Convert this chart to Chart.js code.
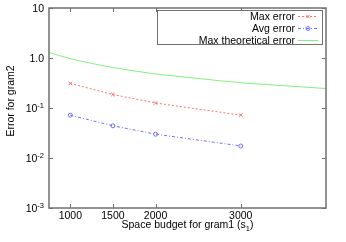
<!DOCTYPE html>
<html>
<head>
<meta charset="utf-8">
<script src="https://cdn.jsdelivr.net/npm/chart.js@4/dist/chart.umd.min.js"></script>
<style>
  html, body { margin: 0; padding: 0; background: #fff; }
  #wrap { width: 346px; height: 242px; }
</style>
</head>
<body>
<div id="wrap"><canvas id="chart1"></canvas></div>
<script>
// values
const budgets = [1000, 1500, 2000, 3000];
const maxError = [0.31, 0.186, 0.126, 0.072];
const avgError = [0.072, 0.044, 0.030, 0.0174];
const theoryBudgets = [750, 1000, 1250, 1500, 2000, 2500, 3000, 3500, 4000];
const theoryError = [1.29, 0.97, 0.78, 0.645, 0.48, 0.39, 0.32, 0.28, 0.245];

const xTicks = [1000, 1500, 2000, 3000];
const xTickLabels = ['1000', '1500', '2000', '3000'];
const yTicks = [0.001, 0.01, 0.1, 1, 10];
const yTickBase = ['10', '10', '10', '1.0', '10'];
const yTickExp = ['-3', '-2', '-1', '', ''];

const FONT = '"Liberation Sans", Arial, sans-serif';
const FRAME = '#707070';

const toPoints = (xs, ys) => xs.map((x, i) => ({ x: x, y: ys[i] }));

// frame, inward ticks, labels, titles and the boxed legend, gnuplot style
const gnuplotFrame = {
    id: 'gnuplotFrame',
    afterDraw(chart) {
        const ctx = chart.ctx;
        const a = chart.chartArea;
        const xs = chart.scales.x;
        const ys = chart.scales.y;
        ctx.save();

        ctx.strokeStyle = FRAME;
        ctx.lineWidth = 1.5;
        ctx.strokeRect(a.left, a.top, a.right - a.left, a.bottom - a.top);

        ctx.lineWidth = 1;
        ctx.beginPath();
        xTicks.forEach((v) => {
            const px = Math.round(xs.getPixelForValue(v)) + 0.5;
            ctx.moveTo(px, a.bottom); ctx.lineTo(px, a.bottom - 4);
            ctx.moveTo(px, a.top); ctx.lineTo(px, a.top + 4);
        });
        yTicks.forEach((v) => {
            const py = Math.round(ys.getPixelForValue(v)) + 0.5;
            ctx.moveTo(a.left, py); ctx.lineTo(a.left + 4, py);
            ctx.moveTo(a.right, py); ctx.lineTo(a.right - 4, py);
        });
        ctx.stroke();

        ctx.fillStyle = '#000';
        ctx.font = '10.5px ' + FONT;
        ctx.textBaseline = 'alphabetic';

        // x tick labels
        ctx.textAlign = 'center';
        xTicks.forEach((v, i) => {
            ctx.fillText(xTickLabels[i], xs.getPixelForValue(v), a.bottom + 11);
        });

        // y tick labels with superscript exponents
        yTicks.forEach((v, i) => {
            const py = ys.getPixelForValue(v) + 4;
            const right = a.left - 5;
            ctx.font = '7.5px ' + FONT;
            const ew = ctx.measureText(yTickExp[i]).width;
            ctx.textAlign = 'right';
            ctx.fillText(yTickExp[i], right, py - 4);
            ctx.font = '10.5px ' + FONT;
            ctx.fillText(yTickBase[i], right - ew, py);
        });

        // x title with subscript
        const t1 = 'Space budget for gram1 (s';
        const t2 = '1';
        const t3 = ')';
        ctx.font = '10.5px ' + FONT;
        const w1 = ctx.measureText(t1).width;
        const w3 = ctx.measureText(t3).width;
        ctx.font = '7.5px ' + FONT;
        const w2 = ctx.measureText(t2).width;
        let tx = (a.left + a.right) / 2 - (w1 + w2 + w3) / 2;
        const ty = a.bottom + 20;
        ctx.textAlign = 'left';
        ctx.font = '10.5px ' + FONT;
        ctx.fillText(t1, tx, ty);
        ctx.font = '7.5px ' + FONT;
        ctx.fillText(t2, tx + w1, ty + 2.5);
        ctx.font = '10.5px ' + FONT;
        ctx.fillText(t3, tx + w1 + w2, ty);

        // y title
        ctx.save();
        ctx.translate(14, 101);
        ctx.rotate(-Math.PI / 2);
        ctx.textAlign = 'center';
        ctx.fillText('Error for gram2', 0, 0);
        ctx.restore();

        // legend
        const box = { left: 157, top: 10, right: 322, bottom: 44 };
        ctx.fillStyle = '#fff';
        ctx.fillRect(box.left, box.top, box.right - box.left, box.bottom - box.top);
        ctx.strokeStyle = FRAME;
        ctx.lineWidth = 1;
        ctx.strokeRect(box.left + 0.5, box.top + 0.5, box.right - box.left, box.bottom - box.top);
        chart.data.datasets.forEach((ds, i) => {
            const rowY = box.top + 6 + i * 12;
            ctx.fillStyle = '#000';
            ctx.textAlign = 'right';
            ctx.font = '10.5px ' + FONT;
            ctx.fillText(ds.label, 295, rowY + 4);
            ctx.strokeStyle = ds.borderColor;
            ctx.lineWidth = 1;
            ctx.setLineDash(ds.borderDash || []);
            ctx.beginPath();
            ctx.moveTo(298, rowY + 0.5);
            ctx.lineTo(318, rowY + 0.5);
            ctx.stroke();
            ctx.setLineDash([]);
            if (ds.pointRadius > 0) {
                ctx.fillStyle = 'rgba(0,0,0,0)';
                Chart.helpers.drawPoint(ctx, {
                    pointStyle: ds.pointStyle,
                    radius: ds.pointRadius,
                    borderWidth: 1
                }, 308, rowY + 0.5);
            }
        });

        ctx.restore();
    }
};

const ctx1 = document.getElementById('chart1').getContext('2d');
const myChart1 = new Chart(ctx1, {
    type: 'line',
    data: {
        datasets: [
            {
                label: 'Max error',
                data: toPoints(budgets, maxError),
                borderColor: '#ff7070',
                backgroundColor: 'transparent',
                borderWidth: 1,
                borderDash: [2, 2],
                pointStyle: 'crossRot',
                pointRadius: 2.5,
                pointBorderWidth: 1,
            },
            {
                label: 'Avg error',
                data: toPoints(budgets, avgError),
                borderColor: '#7070ff',
                backgroundColor: 'transparent',
                borderWidth: 1,
                borderDash: [3, 2, 1, 2],
                pointStyle: 'circle',
                pointRadius: 2,
                pointBorderWidth: 1,
            },
            {
                label: 'Max theoretical error',
                data: toPoints(theoryBudgets, theoryError),
                borderColor: '#80f080',
                backgroundColor: 'transparent',
                borderWidth: 1,
                pointRadius: 0,
                cubicInterpolationMode: 'monotone',
            },
        ],
    },
    options: {
        responsive: true,
        maintainAspectRatio: false,
        animation: false,
        layout: { padding: { top: 8, right: 20, left: 0, bottom: 0 } },
        plugins: {
            legend: { display: false },
            tooltip: { enabled: false },
        },
        scales: {
            x: {
                type: 'linear',
                min: 750,
                max: 4000,
                grid: { display: false },
                border: { display: false },
                ticks: { display: false },
                afterFit: (scale) => { scale.height = 34; },
            },
            y: {
                type: 'logarithmic',
                min: 0.001,
                max: 10,
                grid: { display: false },
                border: { display: false },
                ticks: { display: false },
                afterFit: (scale) => { scale.width = 49; },
            },
        },
    },
    plugins: [gnuplotFrame],
});
</script>
</body>
</html>
